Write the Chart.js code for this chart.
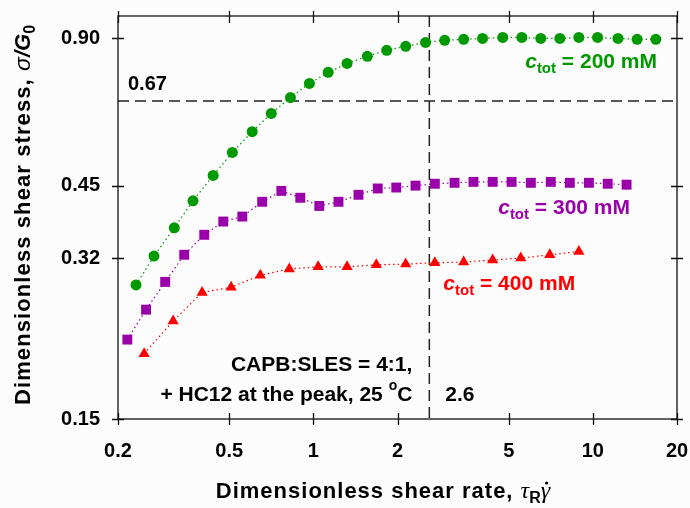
<!doctype html>
<html>
<head>
<script src="https://cdn.jsdelivr.net/npm/chart.js@4.4.1/dist/chart.umd.min.js"></script>
<style>
  body { margin: 0; background: #fcfcfc; }
  canvas { display: block; }
</style>
</head>
<body>
<canvas id="chart" width="690" height="508"></canvas>
<script>
// dimensionless shear rate (x) and shear stress sigma/G0 (y) per total concentration
var x200 = [0.232, 0.269, 0.318, 0.371, 0.438, 0.513, 0.604, 0.707, 0.828, 0.968, 1.13, 1.32, 1.56, 1.83,
            2.14, 2.52, 2.95, 3.45, 4.03, 4.76, 5.57, 6.51, 7.62, 8.91, 10.4, 12.3, 14.4, 16.8];
var y200 = [0.282, 0.323, 0.369, 0.419, 0.472, 0.526, 0.580, 0.632, 0.681, 0.728, 0.767, 0.800, 0.827, 0.851,
            0.867, 0.883, 0.892, 0.896, 0.900, 0.904, 0.904, 0.900, 0.900, 0.904, 0.904, 0.900, 0.896, 0.896];

var x300 = [0.216, 0.252, 0.295, 0.345, 0.407, 0.476, 0.557, 0.656, 0.768, 0.898, 1.05, 1.23, 1.45, 1.70,
            1.98, 2.32, 2.72, 3.20, 3.74, 4.38, 5.12, 6.00, 7.07, 8.27, 9.68, 11.3, 13.2];
var y300 = [0.218, 0.251, 0.286, 0.325, 0.357, 0.380, 0.389, 0.417, 0.439, 0.425, 0.409, 0.417, 0.431, 0.444,
            0.446, 0.450, 0.454, 0.456, 0.458, 0.458, 0.458, 0.456, 0.458, 0.456, 0.456, 0.454, 0.452];

var x400 = [0.248, 0.315, 0.400, 0.508, 0.646, 0.820, 1.04, 1.32, 1.68, 2.14, 2.72, 3.45, 4.38, 5.52, 7.01, 8.91];
var y400 = [0.204, 0.238, 0.272, 0.279, 0.295, 0.304, 0.307, 0.307, 0.310, 0.311, 0.313, 0.314, 0.317, 0.320, 0.325, 0.330];

var xTicks = [0.2, 0.5, 1, 2, 5, 10, 20];
var xTickLabels = ['0.2', '0.5', '1', '2', '5', '10', '20'];
var yTicks = [0.15, 0.32, 0.45, 0.90];
var yTickLabels = ['0.15', '0.32', '0.45', '0.90'];

// marked levels: stress 0.67 and rate 2.6
var stressMark = 0.67;
var rateMark = 2.6;

var GREEN = '#009900';
var PURPLE = '#9900aa';
var RED = '#ff0000';
var SANS = '"Liberation Sans", Arial, sans-serif';
var SERIF = '"Liberation Serif", "Times New Roman", serif';

function pairs(xs, ys) {
  return xs.map(function(x, i) { return { x: x, y: ys[i] }; });
}

function series(data, color, style, radius) {
  return {
    data: data,
    showLine: true,
    borderColor: color,
    borderWidth: 1.2,
    borderDash: [1.5, 3],
    backgroundColor: color,
    pointStyle: style,
    pointRadius: radius,
    pointBorderWidth: 0,
    pointBackgroundColor: color
  };
}

// draws a row of differently styled text pieces (subscripts, overdots etc.)
function drawRuns(ctx, x, y, runs, align) {
  var w = 0;
  runs.forEach(function(r) {
    ctx.font = r.font;
    ctx.letterSpacing = r.ls || '0px';
    w += ctx.measureText(r.text).width;
  });
  if (align === 'right') x -= w;
  if (align === 'center') x -= w / 2;
  runs.forEach(function(r) {
    ctx.font = r.font;
    ctx.letterSpacing = r.ls || '0px';
    var rw = ctx.measureText(r.text).width;
    ctx.fillText(r.text, x, y + (r.dy || 0));
    if (r.dot) {
      ctx.beginPath();
      ctx.arc(x + rw * 0.62, y - 15, 1.6, 0, Math.PI * 2);
      ctx.fill();
    }
    x += rw;
  });
  ctx.letterSpacing = '0px';
}

function concLabel(value) {
  return [
    { text: 'c', font: 'italic bold 21px ' + SANS },
    { text: 'tot', font: 'bold 15px ' + SANS, dy: 5 },
    { text: ' = ' + value + ' mM', font: 'bold 21px ' + SANS }
  ];
}

var overlay = {
  id: 'overlay',
  beforeDatasetsDraw: function(chart) {
    var ctx = chart.ctx, a = chart.chartArea;
    var xs = chart.scales.x, ys = chart.scales.y;
    var py = ys.getPixelForValue(stressMark);
    var px = xs.getPixelForValue(rateMark);
    ctx.save();
    ctx.strokeStyle = '#222';
    ctx.lineWidth = 1.5;
    ctx.setLineDash([11, 6]);
    ctx.beginPath();
    ctx.moveTo(a.left, py);
    ctx.lineTo(a.right, py);
    ctx.moveTo(px, a.top);
    ctx.lineTo(px, a.bottom);
    ctx.stroke();
    ctx.restore();
  },
  afterDraw: function(chart) {
    var ctx = chart.ctx, a = chart.chartArea;
    var xs = chart.scales.x, ys = chart.scales.y;
    ctx.save();

    // frame with ticks crossing every side
    ctx.strokeStyle = '#111';
    ctx.lineWidth = 1.3;
    ctx.strokeRect(a.left, a.top, a.right - a.left, a.bottom - a.top);
    ctx.beginPath();
    xTicks.forEach(function(v) {
      var p = Math.round(xs.getPixelForValue(v)) + 0.5;
      ctx.moveTo(p, a.bottom - 6); ctx.lineTo(p, a.bottom + 6);
      ctx.moveTo(p, a.top - 5); ctx.lineTo(p, a.top + 7);
    });
    yTicks.forEach(function(v) {
      var p = Math.round(ys.getPixelForValue(v)) + 0.5;
      ctx.moveTo(a.left - 6, p); ctx.lineTo(a.left + 6, p);
      ctx.moveTo(a.right - 6, p); ctx.lineTo(a.right + 6, p);
    });
    ctx.stroke();

    ctx.textBaseline = 'alphabetic';
    ctx.fillStyle = '#000';

    // marked level values
    var py = ys.getPixelForValue(stressMark);
    var px = xs.getPixelForValue(rateMark);
    drawRuns(ctx, a.left + 10, py - 11, [{ text: '0.67', font: 'bold 20px ' + SANS }]);
    drawRuns(ctx, px + 16, a.bottom - 18, [{ text: '2.6', font: 'bold 21px ' + SANS }]);

    // sample description
    drawRuns(ctx, px - 17, a.bottom - 48, [{ text: 'CAPB:SLES = 4:1,', font: 'bold 21px ' + SANS }], 'right');
    drawRuns(ctx, px - 17, a.bottom - 18, [
      { text: '+ HC12 at the peak, 25 ', font: 'bold 21px ' + SANS },
      { text: 'o', font: 'bold 14px ' + SANS, dy: -11 },
      { text: 'C', font: 'bold 21px ' + SANS }
    ], 'right');

    // series names
    ctx.fillStyle = GREEN;
    drawRuns(ctx, a.right - 20, 68, concLabel(200), 'right');
    ctx.fillStyle = PURPLE;
    drawRuns(ctx, a.right - 47, 214, concLabel(300), 'right');
    ctx.fillStyle = RED;
    drawRuns(ctx, px + 14, 290, concLabel(400));

    // axis titles
    ctx.fillStyle = '#000';
    drawRuns(ctx, 383, 498, [
      { text: 'Dimensionless shear rate, ', font: 'bold 22px ' + SANS, ls: '1px' },
      { text: '\u03c4', font: 'italic 24px ' + SERIF },
      { text: 'R', font: 'bold 16px ' + SANS, dy: 5 },
      { text: '\u03b3', font: 'italic 24px ' + SERIF, dot: true }
    ], 'center');

    ctx.translate(30, 215);
    ctx.rotate(-Math.PI / 2);
    drawRuns(ctx, 0, 0, [
      { text: 'Dimensionless shear stress, ', font: 'bold 22px ' + SANS, ls: '1.1px' },
      { text: '\u03c3', font: 'italic 23px ' + SANS },
      { text: '/G', font: 'italic bold 22px ' + SANS },
      { text: '0', font: 'bold 16px ' + SANS, dy: 5 }
    ], 'center');
    ctx.restore();
  }
};

function noPadding(scale) {
  scale.paddingTop = 0;
  scale.paddingBottom = 0;
  scale.paddingLeft = 0;
  scale.paddingRight = 0;
}

new Chart(document.getElementById('chart'), {
  type: 'scatter',
  data: {
    datasets: [
      series(pairs(x200, y200), GREEN, 'circle', 5.5),
      series(pairs(x300, y300), PURPLE, 'rect', 7),
      series(pairs(x400, y400), RED, 'triangle', 6.5)
    ]
  },
  options: {
    responsive: false,
    animation: false,
    layout: { padding: { top: 16, right: 13, left: 0, bottom: 0 } },
    plugins: { legend: { display: false }, tooltip: { enabled: false } },
    scales: {
      x: {
        type: 'logarithmic',
        min: 0.2,
        max: 20,
        afterBuildTicks: function(scale) {
          scale.ticks = xTicks.map(function(v) { return { value: v }; });
        },
        afterFit: function(scale) { scale.height = 89; noPadding(scale); },
        grid: { display: true, drawOnChartArea: false, drawTicks: false, color: 'rgba(0,0,0,0)' },
        border: { display: false },
        ticks: {
          padding: 20,
          color: '#000',
          font: { family: SANS, size: 20, weight: 'bold' },
          maxRotation: 0,
          autoSkip: false,
          callback: function(v) { return xTickLabels[xTicks.indexOf(v)]; }
        }
      },
      y: {
        type: 'logarithmic',
        min: 0.15,
        max: 1.0,
        afterBuildTicks: function(scale) {
          scale.ticks = yTicks.map(function(v) { return { value: v }; });
        },
        afterFit: function(scale) { scale.width = 118; noPadding(scale); },
        grid: { display: true, drawOnChartArea: false, drawTicks: false, color: 'rgba(0,0,0,0)' },
        border: { display: false },
        ticks: {
          padding: 18,
          color: '#000',
          font: { family: SANS, size: 20, weight: 'bold' },
          autoSkip: false,
          callback: function(v) { return yTickLabels[yTicks.indexOf(v)]; }
        }
      }
    }
  },
  plugins: [overlay]
});
</script>
</body>
</html>
